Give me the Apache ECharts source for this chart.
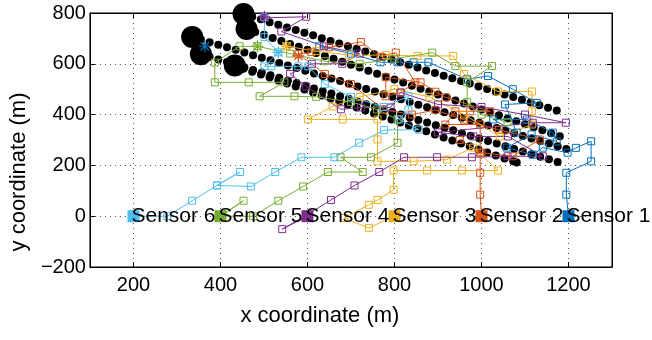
<!DOCTYPE html>
<html>
<head>
<meta charset="utf-8">
<script src="https://cdn.jsdelivr.net/npm/echarts@6/dist/echarts.min.js"></script>
<style>
  html, body { margin: 0; padding: 0; background: #fff; }
  #chart { width: 652px; height: 340px; }
</style>
</head>
<body>
<div id="chart"></div>
<script>
// tick labels
const xTicks = [200, 400, 600, 800, 1000, 1200];

// sensors (start positions)
const sensorNames = ['Sensor 1', 'Sensor 2', 'Sensor 3', 'Sensor 4', 'Sensor 5', 'Sensor 6'];
const sensorPos = [[1200, 0], [1000, 0], [800, 0], [600, 0], [400, 0], [200, 0]];

// target initial positions (big dots)
const targetStarts = [[453, 796], [460, 737], [335, 706], [355, 638], [433, 593]];

// target tracks (black dots)
const trailA = [[453,796],[473,785],[493,775],[513,764],[533,754],[553,743],[573,733],[593,722],[613,712],[633,701],[653,690],[673,680],[693,669],[713,659],[733,648],[753,638],[773,627],[793,617],[813,606],[833,596],[853,585],[873,574],[893,564],[913,553],[933,543],[953,532],[973,522],[993,511],[1013,501],[1033,490],[1053,479],[1073,469],[1093,458],[1113,448],[1133,437],[1153,427],[1173,416]];
const trailB = [[460,737],[480,725],[500,714],[520,702],[540,690],[560,678],[580,667],[600,655],[620,643],[640,631],[660,620],[680,608],[700,596],[720,585],[740,573],[760,561],[780,549],[800,538],[820,526],[840,514],[860,502],[880,491],[900,479],[920,467],[940,456],[960,444],[980,432],[1000,420],[1020,409],[1040,397],[1060,385],[1080,374],[1100,362],[1120,350],[1140,338],[1160,327],[1180,315]];
const trailC = [[335,706],[355,696],[375,685],[395,675],[415,665],[435,655],[455,644],[475,634],[495,624],[515,614],[535,603],[555,593],[575,583],[595,573],[615,562],[635,552],[655,542],[675,532],[695,521],[715,511],[735,501],[755,491],[775,480],[795,470],[815,460],[835,450],[855,439],[875,429],[895,419],[915,409],[935,398],[955,388],[975,378],[995,368],[1015,357],[1035,347],[1055,337],[1075,327],[1095,316],[1115,306],[1135,296],[1155,286],[1175,275],[1195,265]];
const trailD = [[355,638],[375,628],[395,617],[415,607],[435,597],[455,586],[475,576],[495,566],[515,555],[535,545],[555,534],[575,524],[595,514],[615,503],[635,493],[655,483],[675,472],[695,462],[715,452],[735,441],[755,431],[775,420],[795,410],[815,400],[835,389],[855,379],[875,369],[895,358],[915,348],[935,338],[955,327],[975,317],[995,306],[1015,296],[1035,286],[1055,275],[1075,265],[1095,255],[1115,244],[1135,234],[1155,224],[1175,213]];
const trailE = [[433,593],[453,581],[473,569],[493,558],[513,546],[533,534],[553,522],[573,511],[593,499],[613,487],[633,475],[653,463],[673,452],[693,440],[713,428],[733,416],[753,404],[773,393],[793,381],[813,369],[833,357],[853,345],[873,334],[893,322],[913,310],[933,298],[953,286],[973,275],[993,263],[1013,251],[1033,239],[1053,227],[1073,216],[1081,211]];

// sensor trajectories
const path1 = [[1200,0],[1195,85],[1195,171],[1252,216],[1252,295],[1217,269],[1198,250],[1141,270],[1118,242],[1058,270],[1115,322],[1173,294],[1164,329],[1104,381],[1027,381],[1081,329],[1054,440],[1127,446],[1072,500],[1015,552],[967,539],[878,606],[844,606],[807,606],[768,606],[700,640],[627,669]];
const path2 = [[1000,0],[997,85],[997,171],[997,250],[997,361],[917,361],[940,413],[974,413],[1020,413],[917,468],[894,490],[860,527],[780,547],[780,472],[814,487],[848,527],[803,644],[768,628],[723,686],[650,665],[609,646],[579,638],[640,560],[700,520],[775,420],[840,400],[894,418],[960,380],[1040,340],[1134,302],[1072,236],[1000,250],[950,300]];
const path3 = [[800,0],[741,-46],[684,-7],[741,45],[761,64],[798,104],[798,180],[875,180],[955,180],[1038,180],[981,270],[921,223],[844,216],[761,216],[761,302],[761,381],[681,381],[601,381],[658,432],[720,470],[800,500],[880,470],[960,400],[1042,314],[1116,361],[1116,413],[1116,491],[1038,491],[960,560],[935,631],[853,631],[780,634],[696,634],[620,650],[552,669]];
const path4 = [[600,0],[542,-51],[600,6],[654,64],[708,121],[765,174],[822,232],[898,232],[978,232],[1060,236],[1141,236],[1061,314],[981,314],[900,330],[1118,368],[1194,368],[1100,400],[1000,430],[900,440],[814,487],[791,428],[723,428],[677,421],[597,511],[560,560],[610,600],[680,600],[720,640],[638,669],[540,727],[597,785],[501,781]];
const path5 = [[400,0],[453,61],[400,0],[475,0],[533,61],[590,117],[647,174],[727,174],[676,232],[746,232],[807,289],[807,381],[760,420],[700,450],[620,470],[570,472],[490,472],[547,527],[465,527],[387,527],[387,605],[444,669],[485,669],[560,640],[640,610],[720,600],[800,620],[887,644],[940,591],[1024,591],[967,527],[967,449],[1000,400],[1060,370]];
const path6 = [[200,0],[278,0],[335,61],[392,121],[445,174],[392,121],[470,117],[526,174],[586,232],[662,232],[719,289],[776,339],[856,341],[810,381],[832,420],[832,472],[775,430],[700,470],[640,520],[602,590],[579,590],[517,590],[501,590],[533,645],[501,705],[501,785]];

// asterisk markers
const starPoints = [[364,669],[501,785],[485,669],[552,669],[579,631],[533,645]];
const starSensor = [0, 3, 4, 2, 1, 5];

const colors = ['#0072BD', '#D95319', '#EDB120', '#7E2F8E', '#77AC30', '#4DBEEE'];
const font = 'Liberation Sans, Arial, sans-serif';
const paths = [path1, path2, path3, path4, path5, path6];
const trails = [trailA, trailB, trailC, trailD, trailE];

const chart = echarts.init(document.getElementById('chart'));
const series = [];

trails.forEach(t => {
  series.push({ type: 'scatter', data: t, symbolSize: 8, itemStyle: { color: '#000', opacity: 1 }, z: 2, silent: true });
});
series.push({ type: 'scatter', data: targetStarts, symbolSize: 22, itemStyle: { color: '#000', opacity: 1 }, z: 2, silent: true });

paths.forEach((p, i) => {
  series.push({
    type: 'line', data: p, symbol: 'rect', symbolSize: 7, z: 3, silent: true,
    itemStyle: { color: 'none', borderColor: colors[i], borderWidth: 1 },
    lineStyle: { color: colors[i], width: 1 }
  });
});

const asterisk = 'path://M0,-6L0,6M-6,0L6,0M-4.2,-4.2L4.2,4.2M-4.2,4.2L4.2,-4.2';
series.push({
  type: 'scatter', symbol: asterisk, symbolSize: 12, z: 4, silent: true,
  data: starPoints.map((p, i) => ({
    value: p,
    itemStyle: { color: 'none', borderColor: colors[starSensor[i]], borderWidth: 1.2, opacity: 1 }
  }))
});

series.push({
  type: 'scatter', symbol: 'rect', symbolSize: 12, z: 5, silent: true,
  data: sensorPos.map((p, i) => ({ value: p, name: sensorNames[i], itemStyle: { color: colors[i], opacity: 1 } })),
  label: {
    show: true, position: 'right', distance: -8, formatter: '{b}',
    fontSize: 21, color: '#000', fontFamily: font
  }
});

const xBase = {
  type: 'value', min: 100, max: 1300,
  axisLine: { show: true, onZero: false, lineStyle: { color: '#000', width: 1 } },
  axisTick: { show: true, inside: true, length: 5, customValues: xTicks, lineStyle: { color: '#000' } }
};
const yBase = {
  type: 'value', min: -200, max: 800, interval: 200,
  axisLine: { show: true, onZero: false, lineStyle: { color: '#000', width: 1 } },
  axisTick: { show: true, inside: true, length: 5, lineStyle: { color: '#000' } }
};

chart.setOption({
  animation: false,
  backgroundColor: '#fff',
  grid: { left: 88, top: 13, width: 524, height: 254, show: true, borderColor: '#000', borderWidth: 1 },
  xAxis: [
    Object.assign({}, xBase, {
      position: 'bottom',
      name: 'x coordinate (m)', nameLocation: 'middle', nameGap: 38,
      nameTextStyle: { fontSize: 22, color: '#000', fontFamily: font, padding: [0, 62, 0, 0] },
      axisLabel: { customValues: xTicks, fontSize: 20, color: '#000', margin: 8, fontFamily: font, formatter: v => String(v) },
      splitLine: { show: true, lineStyle: { color: '#555', type: [1, 4], width: 1 } }
    }),
    Object.assign({}, xBase, {
      position: 'top', axisLabel: { show: false }, splitLine: { show: false }
    })
  ],
  yAxis: [
    Object.assign({}, yBase, {
      position: 'left',
      name: 'y coordinate (m)', nameLocation: 'middle', nameGap: 58,
      nameTextStyle: { fontSize: 22, color: '#000', fontFamily: font, padding: [0, 64, 0, 0] },
      axisLabel: {
        fontSize: 20, color: '#000', margin: 4, fontFamily: font,
        formatter: v => (v < 0 ? '\u2212' + (-v) : String(v))
      },
      splitLine: { show: true, lineStyle: { color: '#555', type: [1, 4], width: 1 } }
    }),
    Object.assign({}, yBase, {
      position: 'right', axisLabel: { show: false }, splitLine: { show: false }
    })
  ],
  series: series
});
</script>
</body>
</html>
